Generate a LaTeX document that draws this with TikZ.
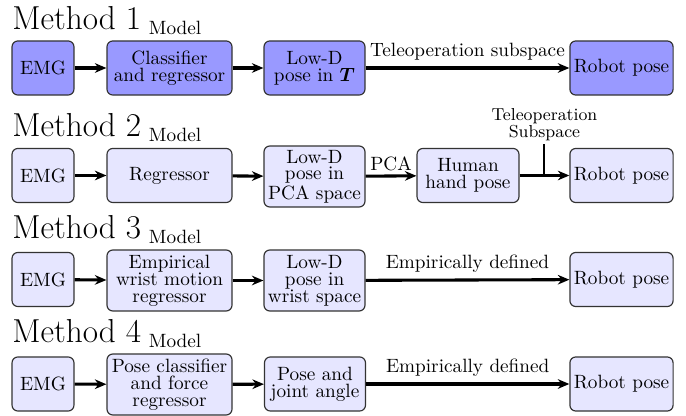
\documentclass[tikz,border=0pt]{standalone}
\usepackage{amsmath}
\usetikzlibrary{arrows.meta,calc}
\definecolor{fillA}{RGB}{153,153,255}
\definecolor{fillB}{RGB}{230,230,255}
\begin{document}
\begin{tikzpicture}[x=0.52pt,y=-0.52pt,
  box/.style={draw=black!80, line width=0.6pt, rounded corners=3pt, align=center,
    inner sep=2pt, minimum height=28.1pt, font=\fontsize{10}{8.8}\selectfont},
  tallbox/.style={box, minimum height=31.7pt},
  wE/.style={minimum width=32.2pt},
  wC/.style={minimum width=65pt},
  wL/.style={minimum width=52.5pt},
  wH/.style={minimum width=53pt},
  wR/.style={minimum width=52.5pt},
  rowA/.style={fill=fillA},
  rowB/.style={fill=fillB},
  flow/.style={-{Stealth[length=6pt,width=5pt]}, line width=1.6pt},
  lbl/.style={font=\fontsize{10}{12}\selectfont},
  ttl/.style={anchor=base west, inner sep=0pt}
]
\useasboundingbox (0,0) rectangle (686,416);

% Method 1
\node[ttl] (t1) at (12,30) {{\LARGE Method 1}\kern4pt\raisebox{-2.6pt}{Model}};
\node[box,rowA,wE] (e1) at (43,68) {EMG};
\node[box,rowA,wC] (c1) at (169.5,68) {Classifier\\and regressor};
\node[box,rowA,wL] (l1) at (314.5,68) {Low-D\\pose in $\boldsymbol{T}$};
\node[box,rowA,wR] (r1) at (621.5,68) {Robot pose};
\draw[flow] (e1) -- (c1);
\draw[flow] (c1) -- (l1);
\draw[flow] (l1) -- node[lbl,above] {Teleoperation subspace} (r1);

% Method 2
\node[ttl] (t2) at (12,137) {{\LARGE Method 2}\kern4pt\raisebox{-2.6pt}{Model}};
\node[box,rowB,wE] (e2) at (43,175.5) {EMG};
\node[box,rowB,wC] (c2) at (169.5,175.5) {Regressor};
\node[tallbox,rowB,wL] (l2) at (314.5,176.5) {Low-D\\pose in\\PCA space};
\node[box,rowB,wH] (h2) at (468,175.5) {Human\\hand pose};
\node[box,rowB,wR] (r2) at (621.5,175.5) {Robot pose};
\draw[flow] (e2) -- (c2);
\draw[flow] (c2) -- (l2);
\draw[flow] (l2) -- node[lbl,above,inner sep=2pt] {PCA} (h2);
\draw[flow] (h2) -- (r2);
\coordinate (j2) at ($(h2.east)!0.5!(r2.west)$);
\draw[line width=1pt] (j2) -- ++(0,-31) coordinate (j2t);
\node[anchor=south, align=center, inner sep=1.5pt, font=\fontsize{9}{9}\selectfont] (tl2) at (j2t) {Teleoperation\\Subspace};

% Method 3
\node[ttl] (t3) at (12,239) {{\LARGE Method 3}\kern4pt\raisebox{-2.6pt}{Model}};
\node[box,rowB,wE] (e3) at (43,279.5) {EMG};
\node[tallbox,rowB,wC] (c3) at (169.5,280.5) {Empirical\\wrist motion\\regressor};
\node[tallbox,rowB,wL] (l3) at (314.5,280.5) {Low-D\\pose in\\wrist space};
\node[box,rowB,wR] (r3) at (621.5,279.5) {Robot pose};
\draw[flow] (e3) -- (c3);
\draw[flow] (c3) -- (l3);
\draw[flow] (l3) -- node[lbl,above] {Empirically defined} (r3);

% Method 4
\node[ttl] (t4) at (12,343) {{\LARGE Method 4}\kern4pt\raisebox{-2.6pt}{Model}};
\node[box,rowB,wE] (e4) at (43,384) {EMG};
\node[tallbox,rowB,wC] (c4) at (169.5,384.5) {Pose classifier\\and force\\regressor};
\node[box,rowB,wL] (l4) at (315,384) {Pose and\\joint angle};
\node[box,rowB,wR] (r4) at (621.5,384) {Robot pose};
\draw[flow] (e4) -- (c4);
\draw[flow] (c4) -- (l4);
\draw[flow] (l4) -- node[lbl,above] {Empirically defined} (r4);
\end{tikzpicture}
\end{document}
